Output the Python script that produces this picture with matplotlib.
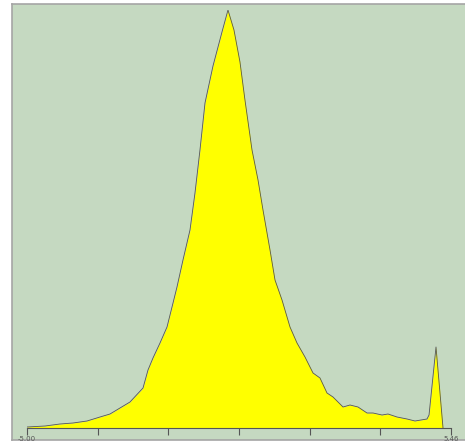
import numpy as np
import matplotlib
matplotlib.use("Agg")
import matplotlib.pyplot as plt

# distribution outline (x in data units, y = relative height)
xs = [-5.000, -4.556, -4.186, -3.865, -3.520, -3.199, -2.952, -2.706, -2.459, -2.138,
      -2.015, -1.892, -1.719, -1.546, -1.398, -1.300, -1.152, -0.979, -0.856, -0.733,
      -0.609, -0.412, -0.190, -0.042, 0.106, 0.254, 0.377, 0.551, 0.699, 0.822,
      0.995, 1.118, 1.291, 1.488, 1.661, 1.858, 2.056, 2.228, 2.401, 2.549,
      2.796, 2.969, 3.166, 3.388, 3.536, 3.758, 3.906, 4.128, 4.375, 4.572,
      4.868, 4.918, 5.090, 5.263]
heights = [1, 2, 4, 5, 7, 11, 14, 20, 26, 40,
           58, 70, 85, 101, 125, 141, 168, 198, 235, 278,
           325, 362, 396, 418, 398, 366, 328, 278, 248, 218,
           178, 148, 128, 101, 85, 71, 55, 50, 35, 31,
           21, 23, 21, 15, 15, 13, 14, 11, 9, 7,
           9, 13, 81, 0]
x_min, x_max = -5.00, 5.46
tick_labels = ["-5.00", "", "", "", "", "", "5.46"]

W, H = 465, 442
fig = plt.figure(figsize=(W / 100, H / 100), dpi=100)
fig.patch.set_facecolor("white")

# green panel with grey frame
panel = fig.add_axes([12 / W, (H - 440) / H, (W - 12) / W, 436 / H])
panel.set_facecolor("#c5d9c1")
panel.set_xticks([])
panel.set_yticks([])
for side in ["left", "top", "bottom"]:
    panel.spines[side].set_color("#a5a5a5")
    panel.spines[side].set_linewidth(1.2)
panel.spines["right"].set_visible(False)

# data axes
ax = fig.add_axes([27 / W, (H - 428) / H, 424 / W, 418 / H])
ax.patch.set_alpha(0)
ax.fill_between(xs, heights, 0, color="#ffff00", linewidth=0)
ax.plot(xs, heights, color="#555555", linewidth=0.6)
ax.set_xlim(x_min, x_max)
ax.set_ylim(0, max(heights))
for side in ["left", "top", "right"]:
    ax.spines[side].set_visible(False)
ax.spines["bottom"].set_color("#555555")
ax.spines["bottom"].set_linewidth(0.8)
ax.set_yticks([])
ax.set_xticks(np.linspace(x_min, x_max, 7))
ax.set_xticklabels(tick_labels)
ax.tick_params(axis="x", direction="out", length=5, width=0.8, color="#555555",
               labelsize=5, labelcolor="#555555", pad=1)

fig.savefig("out.png", dpi=100)
